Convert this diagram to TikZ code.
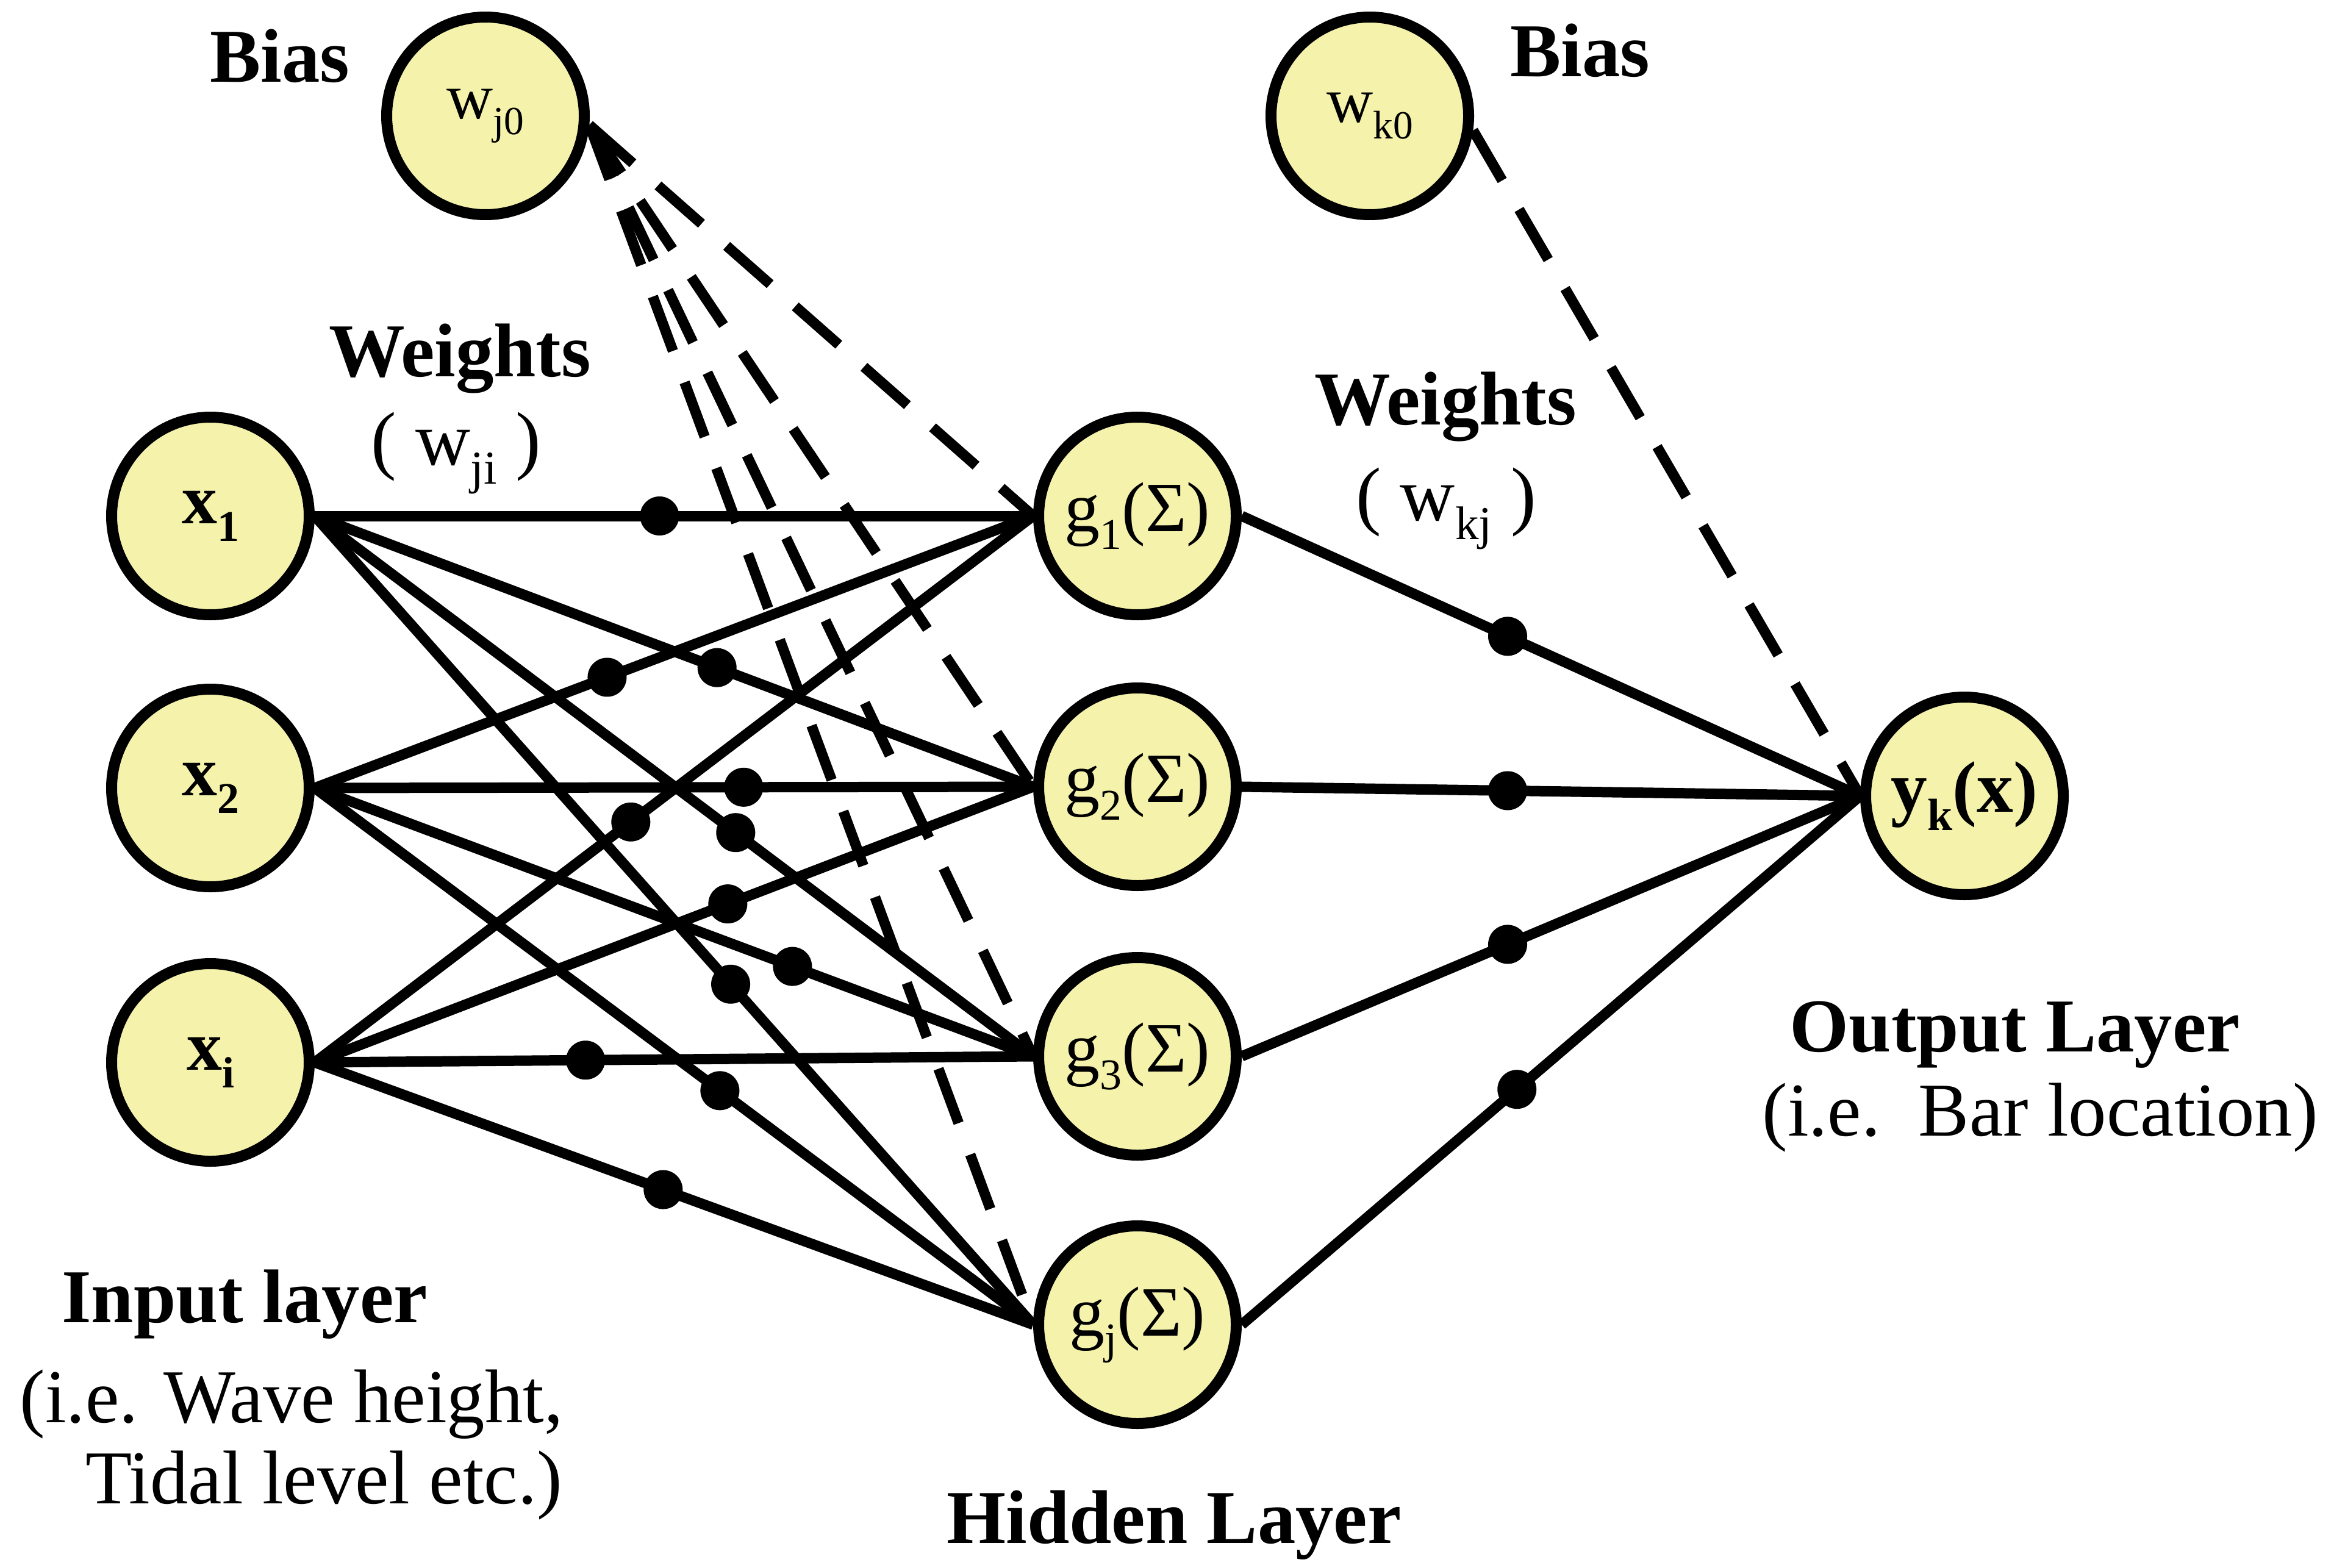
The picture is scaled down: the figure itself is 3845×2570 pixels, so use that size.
\documentclass[tikz,border=0pt]{standalone}
\usepackage{fontspec}
\setmainfont{Liberation Serif}
\usepackage{graphicx}
\usetikzlibrary{backgrounds}
\newcommand{\lsub}[1]{\raisebox{-0.25em}{\scalebox{0.62}{#1}}}
\definecolor{nfill}{RGB}{245,242,172}
\begin{document}
\begin{tikzpicture}[x=0.1mm,y=-0.1mm,
  neuron/.style={circle,draw=black,line width=1.8mm,fill=nfill,minimum size=32.4mm,inner sep=0pt,font=\fontsize{33}{36}\selectfont},
  conn/.style={line width=1.7mm},
  bconn/.style={line width=1.7mm,dash pattern=on 9.5mm off 5.5mm},
  wdot/.style={circle,fill=black,minimum size=6.4mm,inner sep=0pt},
  lab/.style={font=\fontsize{35.5}{42}\selectfont,inner sep=0pt},
  blab/.style={font=\fontsize{35.5}{42}\selectfont\bfseries,inner sep=0pt}]
\useasboundingbox (0,0) rectangle (3845,2570);

% nodes
\node[neuron] (x1) at (345,846) {\textbf{x\lsub{1}}};
\node[neuron] (x2) at (345,1292) {\textbf{x\lsub{2}}};
\node[neuron] (xi) at (345,1742) {\textbf{x\lsub{i}}};
\node[neuron,font=\fontsize{30}{34}\selectfont] (wj0) at (796,190) {w\lsub{j0}};
\node[neuron,font=\fontsize{30}{34}\selectfont] (wk0) at (2246,190) {w\lsub{k0}};
\node[neuron] (g1) at (1865,846) {g\lsub{1}(Σ)};
\node[neuron] (g2) at (1865,1290) {g\lsub{2}(Σ)};
\node[neuron] (g3) at (1865,1732) {g\lsub{3}(Σ)};
\node[neuron] (gj) at (1865,2172) {g\lsub{j}(Σ)};
\node[neuron,font=\fontsize{34}{38}\selectfont] (yk) at (3221,1305) {\textbf{y\lsub{k}(x)}};

% labels
\node[blab] (biasL) at (459,92) {Bias};
\node[blab] (biasR) at (2591,83) {Bias};
\node[blab] (wL) at (754,588) {Weights};
\node[lab] (wjiL) at (748,743) {( w\lsub{ji} )};
\node[blab] (wR) at (2370,667) {Weights};
\node[lab] (wkjL) at (2371,834) {( w\lsub{kj} )};
\node[blab] (inL) at (401,2139) {Input layer};
\node[lab] (inL2) at (478,2303) {(i.e. Wave height,};
\node[lab] (inL3) at (531,2435) {Tidal level etc.)};
\node[blab] (hidL) at (1925,2501) {Hidden Layer};
\node[blab] (outL) at (3304,1697) {Output Layer};
\node[lab] (outL2) at (3345,1832) {(i.e.\ \ Bar location)};

\begin{scope}[on background layer]
% input -> hidden
\draw[conn] (x1.east) -- node[wdot,pos=0.48]{} (g1.west);
\draw[conn] (x1.east) -- node[wdot,pos=0.56]{} (g2.west);
\draw[conn] (x1.east) -- node[wdot,pos=0.586]{} (g3.west);
\draw[conn] (x1.east) -- node[wdot,pos=0.579]{} (gj.west);
\draw[conn] (x2.east) -- node[wdot,pos=0.407]{} (g1.west);
\draw[conn] (x2.east) -- node[wdot,pos=0.597]{} (g2.west);
\draw[conn] (x2.east) -- node[wdot,pos=0.665]{} (g3.west);
\draw[conn] (x2.east) -- node[wdot,pos=0.564]{} (gj.west);
\draw[conn] (xi.east) -- node[wdot,pos=0.44]{} (g1.west);
\draw[conn] (xi.east) -- node[wdot,pos=0.575]{} (g2.west);
\draw[conn] (xi.east) -- node[wdot,pos=0.377]{} (g3.west);
\draw[conn] (xi.east) -- node[wdot,pos=0.485]{} (gj.west);
% hidden -> output
\draw[conn] (g1.east) -- node[wdot,pos=0.43]{} (yk.west);
\draw[conn] (g2.east) -- node[wdot,pos=0.43]{} (yk.west);
\draw[conn] (g3.east) -- node[wdot,pos=0.43]{} (yk.west);
\draw[conn] (gj.east) -- node[wdot,pos=0.445]{} (yk.west);
% bias
\draw[bconn] (wj0.-5) -- (g1.west);
\draw[bconn] (wj0.-5) -- (g2.west);
\draw[bconn] (wj0.-5) -- (g3.west);
\draw[bconn] (wj0.-5) -- (gj.west);
\draw[bconn] (wk0.-8) -- (yk.west);
\end{scope}
\end{tikzpicture}
\end{document}
